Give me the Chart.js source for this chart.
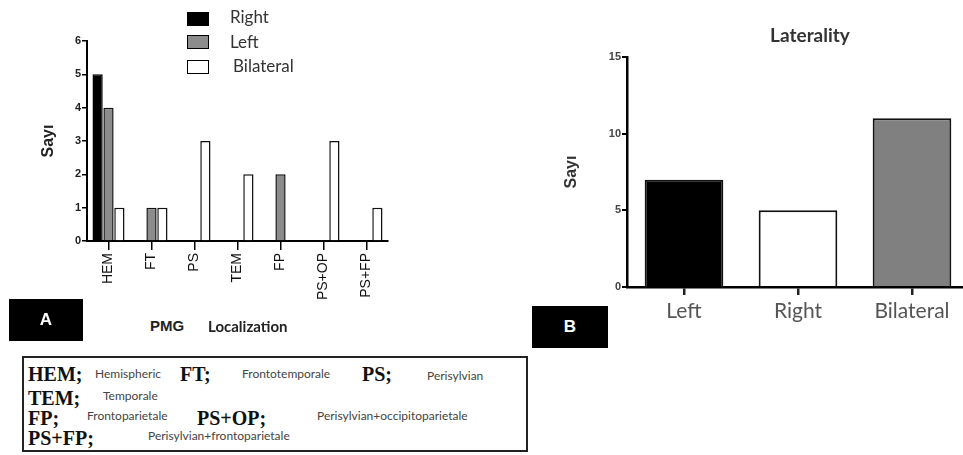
<!DOCTYPE html>
<html>
<head>
<meta charset="utf-8">
<script src="https://cdn.jsdelivr.net/npm/chart.js@4/dist/chart.umd.min.js"></script>
<style>
  html,body{margin:0;padding:0;background:#fff;}
  body{width:963px;height:455px;position:relative;overflow:hidden;}
  .abs{position:absolute;white-space:nowrap;line-height:1;}
  #cA{position:absolute;left:0;top:0;}
  #cB{position:absolute;left:540px;top:0;}
  .tag{position:absolute;background:#000;color:#fff;font:bold 17px Arial, "Liberation Sans", sans-serif;display:flex;align-items:center;justify-content:center;}
  .lg{position:absolute;border:1px solid #000;}
  .ab{font:bold 20px "Liberation Serif","Times New Roman",serif;color:#111;}
  .ex{font:12px Lato, "Open Sans", sans-serif;color:#444;}
</style>
</head>
<body>
<canvas id="cA" width="400" height="300"></canvas>
<canvas id="cB" width="430" height="340"></canvas>

<!-- Legend of chart A -->
<div class="lg" style="left:187px;top:12px;width:20px;height:12px;background:#000;"></div>
<div class="lg" style="left:187px;top:35px;width:20px;height:12px;background:#8c8c8c;"></div>
<div class="lg" style="left:187px;top:60px;width:20px;height:12px;background:#fff;"></div>
<div class="abs" style="left:230px;top:6px;font:17px Lato,sans-serif;color:#333;">Right</div>
<div class="abs" style="left:230px;top:31px;font:17px Lato,sans-serif;color:#333;">Left</div>
<div class="abs" style="left:233px;top:55px;font:17px Lato,sans-serif;color:#333;">Bilateral</div>

<div class="abs" style="left:150px;top:317px;font:bold 15px Arial,sans-serif;color:#222;">PMG</div>
<div class="abs" style="left:208px;top:317px;font:bold 15px Lato,sans-serif;color:#222;">Localization</div>

<div class="tag" style="left:9px;top:299px;width:74px;height:42px;">A</div>
<div class="tag" style="left:532px;top:306px;width:76px;height:42px;">B</div>

<div class="abs" style="left:705px;top:23px;width:210px;text-align:center;font:bold 19px Lato,sans-serif;color:#333;">Laterality</div>

<!-- Abbreviation box -->
<div style="position:absolute;left:22px;top:356px;width:502px;height:92px;border:2px solid #222;"></div>
<div class="abs ab" style="left:28px;top:363px;">HEM;</div>
<div class="abs ex" style="left:95px;top:366px;">Hemispheric</div>
<div class="abs ab" style="left:180px;top:363px;">FT;</div>
<div class="abs ex" style="left:242px;top:366px;">Frontotemporale</div>
<div class="abs ab" style="left:362px;top:363px;">PS;</div>
<div class="abs ex" style="left:427px;top:368px;">Perisylvian</div>
<div class="abs ab" style="left:28px;top:387px;">TEM;</div>
<div class="abs ex" style="left:103px;top:388px;">Temporale</div>
<div class="abs ab" style="left:28px;top:407px;">FP;</div>
<div class="abs ex" style="left:87px;top:408px;">Frontoparietale</div>
<div class="abs ab" style="left:197px;top:407px;">PS+OP;</div>
<div class="abs ex" style="left:317px;top:408px;">Perisylvian+occipitoparietale</div>
<div class="abs ab" style="left:28px;top:427px;">PS+FP;</div>
<div class="abs ex" style="left:148px;top:428px;">Perisylvian+frontoparietale</div>

<script>
// ---- Data: chart A (PMG localization) ----
const catsA = ['HEM', 'FT', 'PS', 'TEM', 'FP', 'PS+OP', 'PS+FP'];
const rightA = [5, 0, 0, 0, 0, 0, 0];
const leftA = [4, 1, 0, 0, 2, 0, 0];
const bilateralA = [1, 1, 3, 2, 0, 3, 1];
const ticksA = [0, 1, 2, 3, 4, 5, 6];

// ---- Data: chart B (Laterality) ----
const catsB = ['Left', 'Right', 'Bilateral'];
const valuesB = [7, 5, 11];
const ticksB = [0, 5, 10, 15];

Chart.defaults.animation = false;
Chart.defaults.devicePixelRatio = 1;

new Chart(document.getElementById('cA'), {
  type: 'bar',
  data: {
    labels: catsA,
    datasets: [
      {label: 'Right', data: rightA, backgroundColor: '#000', borderColor: '#000', borderWidth: 1.5},
      {label: 'Left', data: leftA, backgroundColor: '#8c8c8c', borderColor: '#111', borderWidth: 1.5},
      {label: 'Bilateral', data: bilateralA, backgroundColor: '#fff', borderColor: '#111', borderWidth: 1.5}
    ]
  },
  options: {
    responsive: false,
    layout: {padding: {left: 39, right: 12, top: 41, bottom: 0}},
    plugins: {legend: {display: false}, tooltip: {enabled: false}},
    datasets: {bar: {categoryPercentage: 0.76, barPercentage: 0.94, borderSkipped: 'start'}},
    scales: {
      x: {
        offset: true,
        afterFit: s => { s.height = 59; },
        grid: {display: true, drawOnChartArea: false, offset: false, tickLength: 9, color: '#000', lineWidth: 1.5},
        border: {color: '#000', width: 2},
        ticks: {minRotation: 90, maxRotation: 90, padding: 3, color: '#111', font: {family: 'Arial', size: 14}}
      },
      y: {
        min: 0, max: 6,
        afterFit: s => { s.width = 48; },
        afterBuildTicks: s => { s.ticks = ticksA.map(v => ({value: v})); },
        grid: {display: true, drawOnChartArea: false, tickLength: 5, color: '#000', lineWidth: 1.5},
        border: {color: '#000', width: 2},
        ticks: {padding: 1, color: '#222', font: {family: 'Arial', size: 11, weight: 'bold'}},
        title: {display: true, text: 'Sayı', color: '#222', padding: {top: 0, bottom: 4}, font: {family: 'Arial', size: 16, weight: 'bold'}}
      }
    }
  }
});

new Chart(document.getElementById('cB'), {
  type: 'bar',
  data: {
    labels: catsB,
    datasets: [{
      label: 'Laterality',
      data: valuesB,
      backgroundColor: ['#000', '#fff', '#808080'],
      borderColor: '#111',
      borderWidth: 2
    }]
  },
  options: {
    responsive: false,
    layout: {padding: {left: 22, right: 1, top: 57, bottom: 0}},
    plugins: {legend: {display: false}, tooltip: {enabled: false}},
    datasets: {bar: {categoryPercentage: 1, barPercentage: 0.69, borderSkipped: 'start'}},
    scales: {
      x: {
        offset: true,
        afterFit: s => { s.height = 53; },
        grid: {display: true, drawOnChartArea: false, offset: false, tickLength: 8, color: '#222', lineWidth: 2.5},
        border: {color: '#000', width: 2.5},
        ticks: {padding: 4, color: '#555', font: {family: 'Lato', size: 21}}
      },
      y: {
        min: 0, max: 15,
        afterFit: s => { s.width = 65; },
        afterBuildTicks: s => { s.ticks = ticksB.map(v => ({value: v})); },
        grid: {display: true, drawOnChartArea: false, tickLength: 5, color: '#000', lineWidth: 2},
        border: {color: '#000', width: 2.5},
        ticks: {padding: 1, color: '#444', font: {family: 'Arial', size: 11, weight: 'bold'}},
        title: {display: true, text: 'Sayı', color: '#333', padding: {top: 0, bottom: 4}, font: {family: 'Arial', size: 16, weight: 'bold'}}
      }
    }
  }
});
</script>
</body>
</html>
